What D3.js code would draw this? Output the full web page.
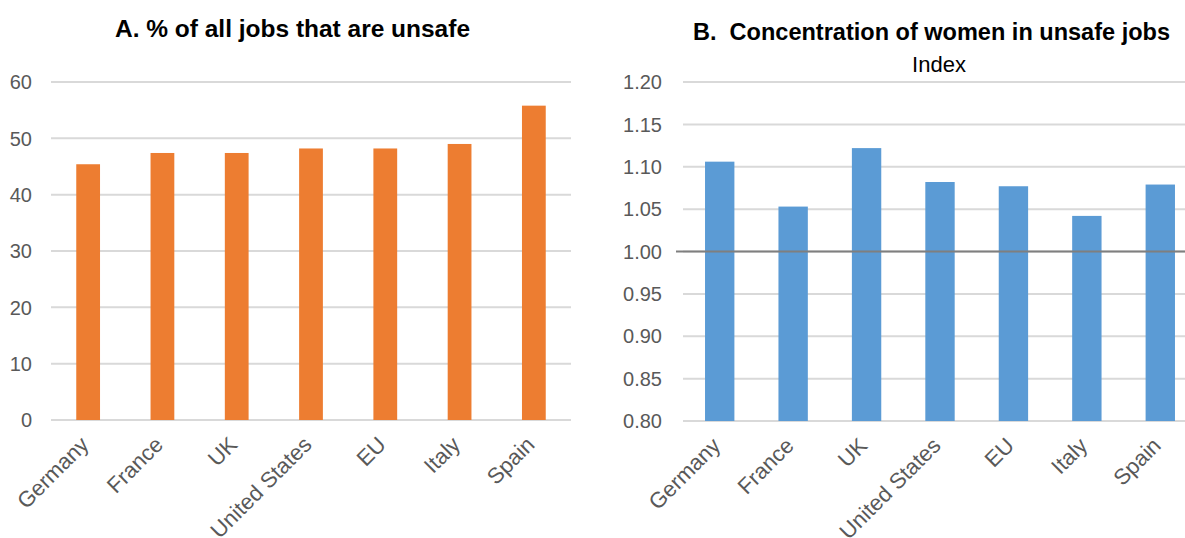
<!DOCTYPE html>
<html>
<head>
<meta charset="utf-8">
<script src="https://cdn.jsdelivr.net/npm/d3@7"></script>
<style>
  html, body { margin: 0; padding: 0; background: #fff; }
  svg { display: block; }
  text { font-family: "Liberation Sans", Arial, sans-serif; }
</style>
</head>
<body>
<svg id="chart" width="1185" height="538"></svg>
<script>
const categories = ["Germany", "France", "UK", "United States", "EU", "Italy", "Spain"];
const unsafeShare = [45.4, 47.4, 47.4, 48.2, 48.2, 49.0, 55.8];
const womenIndex = [1.106, 1.053, 1.122, 1.082, 1.077, 1.042, 1.079];
const ticksA = [0, 10, 20, 30, 40, 50, 60];
const ticksB = [0.80, 0.85, 0.90, 0.95, 1.00, 1.05, 1.10, 1.15, 1.20];
const titleA = "A. % of all jobs that are unsafe";
const titleB = "B.  Concentration of women in unsafe jobs";
const subtitleB = "Index";

const svg = d3.select("#chart");
const gridColor = "#d9d9d9";
const labelColor = "#595959";

function panel(opts) {
  const g = svg.append("g");
  const x = d3.scaleBand().domain(categories).range(opts.xRange).paddingInner(opts.pad).paddingOuter(opts.pad / 2);
  const y = d3.scaleLinear().domain(opts.yDomain).range(opts.yRange);

  g.append("g").selectAll("line").data(opts.ticks).join("line")
    .attr("x1", opts.xRange[0]).attr("x2", opts.xRange[1])
    .attr("y1", d => y(d)).attr("y2", d => y(d))
    .attr("stroke", gridColor).attr("stroke-width", 2);

  g.append("g").selectAll("text").data(opts.ticks).join("text")
    .attr("x", opts.xRange[0] - opts.tickGap).attr("y", d => y(d)).attr("dy", "0.36em")
    .attr("text-anchor", "end").attr("font-size", 20).attr("fill", labelColor)
    .style("font-family", opts.tickFont)
    .text(d => opts.fmt(d));

  g.append("g").selectAll("rect").data(opts.values).join("rect")
    .attr("x", (d, i) => x(categories[i]))
    .attr("width", x.bandwidth())
    .attr("y", d => y(d))
    .attr("height", d => y(opts.yDomain[0]) - y(d))
    .attr("fill", opts.color);

  if (opts.refLine !== undefined) {
    g.append("line")
      .attr("x1", opts.xRange[0] - 7).attr("x2", opts.xRange[1])
      .attr("y1", y(opts.refLine)).attr("y2", y(opts.refLine))
      .attr("stroke", "#7f7f7f").attr("stroke-width", 2);
  }

  g.append("g").selectAll("text").data(categories).join("text")
    .attr("transform", d => `translate(${x(d) + x.bandwidth() / 2 + 2},${y(opts.yDomain[0]) + 26}) rotate(-45)`)
    .attr("text-anchor", "end")
    .attr("font-size", 22).attr("fill", labelColor)
    .text(d => d);
  return g;
}

panel({
  xRange: [51, 571], pad: 0.68,
  yDomain: [0, 60], yRange: [420, 82],
  ticks: ticksA, values: unsafeShare, color: "#ed7d31",
  fmt: d3.format("d"), tickGap: 19, tickFont: '"Liberation Sans", Arial, sans-serif'
});

panel({
  xRange: [683, 1197], pad: 0.6,
  yDomain: [0.8, 1.2], yRange: [421, 82],
  ticks: ticksB, values: womenIndex, color: "#5b9bd5",
  fmt: d3.format(".2f"), refLine: 1.0, tickGap: 21,
  tickFont: '"Liberation Sans Narrow", "Liberation Sans", Arial, sans-serif'
});

svg.append("text").attr("x", 115).attr("y", 37)
  .attr("font-size", 23).attr("font-weight", "bold").attr("fill", "#000")
  .attr("textLength", 355).attr("lengthAdjust", "spacingAndGlyphs").text(titleA);
svg.append("text").attr("x", 693).attr("y", 40)
  .attr("font-size", 23).attr("font-weight", "bold").attr("fill", "#000")
  .attr("textLength", 477).attr("lengthAdjust", "spacingAndGlyphs")
  .attr("xml:space", "preserve").style("white-space", "pre").text(titleB);
svg.append("text").attr("x", 939).attr("y", 72).attr("text-anchor", "middle")
  .attr("font-size", 22).attr("fill", "#000").text(subtitleB);
</script>
</body>
</html>
